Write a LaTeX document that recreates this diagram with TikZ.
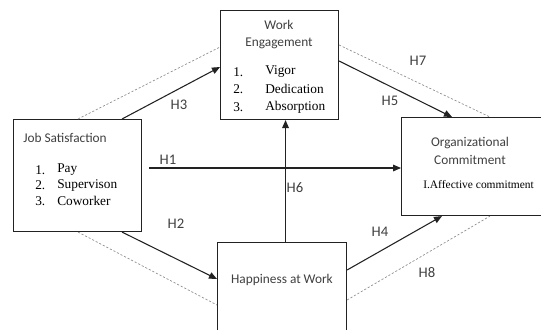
\documentclass[tikz,border=0pt]{standalone}
\usepackage{fontspec}
\setmainfont{Liberation Serif}
\newfontfamily\calib{Carlito}
\usepackage{xcolor}
\usepackage{tikz}
\usetikzlibrary{arrows.meta,calc}
\definecolor{HMLine}{HTML}{222222}
\definecolor{HMDash}{HTML}{8C8C8C}
\definecolor{HMText}{HTML}{404040}

\begin{document}
\begin{tikzpicture}[x=0.75pt,y=-0.75pt,
  box/.style={draw=HMLine,line width=.8pt,rectangle,anchor=north west,inner sep=0pt},
  ttl/.style={font=\calib\fontsize{10}{12}\selectfont,text=HMText,inner sep=0pt},
  itm/.style={font=\fontsize{10}{12}\selectfont,anchor=west,inner sep=0pt},
  hyp/.style={font=\calib\fontsize{11}{13}\selectfont,text=HMText,inner sep=0pt},
  path/.style={draw=HMLine,line width=.8pt,-{Triangle[length=6pt,width=5pt]}},
  link/.style={draw=HMDash,line width=.5pt,dash pattern=on 1.6pt off 1.4pt}]
\path[use as bounding box] (0,0) rectangle (541,329);
\clip (0,0) rectangle (541,329);
\fill[white] (0,0) rectangle (541,329);
% boxes
\node[box,minimum width=96pt,minimum height=84pt] (js) at (13,119) {};
\node[box,minimum width=88.5pt,minimum height=81.75pt] (we) at (220,10) {};
\node[box,minimum width=108.75pt,minimum height=73.5pt] (oc) at (401,117) {};
\node[box,minimum width=96.75pt,minimum height=73.5pt] (hw) at (217,242) {};
% job satisfaction
\node[ttl,anchor=west] (jst) at (23,138) {Job Satisfaction};
\node[itm] (jsn1) at (35,170) {1.};
\node[itm] (jsi1) at (57,170) {Pay};
\node[itm] (jsn2) at (35,185) {2.};
\node[itm] (jsi2) at (57,185) {Supervison};
\node[itm] (jsn3) at (35,201) {3.};
\node[itm] (jsi3) at (57,201) {Coworker};
% work engagement
\node[ttl] (wet1) at (279,25) {Work};
\node[ttl] (wet2) at (279,43) {Engagement};
\node[itm] (wen1) at (233,72) {1.};
\node[itm] (wei1) at (265,72) {Vigor};
\node[itm] (wen2) at (233,89) {2.};
\node[itm] (wei2) at (265,89) {Dedication};
\node[itm] (wen3) at (233,107) {3.};
\node[itm] (wei3) at (265,107) {Absorption};
% organizational commitment
\node[ttl] (oct1) at (470,143) {Organizational};
\node[ttl] (oct2) at (470,160) {Commitment};
\node[itm,font=\fontsize{8.6}{10}\selectfont] (oci1) at (423,185) {I.Affective commitment};
% happiness
\node[ttl] (hwt) at (282,280) {Happiness at Work};
% dashed links
\draw[link] ($(js.north west)+(65,0)$) -- ($(we.north west)+(0,37)$);
\draw[link] ($(js.south west)+(65,0)$) -- ($(hw.north west)+(0,63)$);
\draw[link] ($(we.north east)+(0,35)$) -- ($(oc.north west)+(89,0)$);
\draw[link] ($(hw.north east)+(0,58)$) -- ($(oc.south west)+(89,0)$);
% paths
\coordinate (h1s) at ($(js.north east)+(7,49)$);
\coordinate (h6s) at ($(hw.north)+(3.5,0)$);
\draw[path] ($(js.north west)+(109,0)$) -- ($(we.north west)+(0,57)$);
\draw[path] ($(js.south west)+(109,0)$) -- ($(hw.north west)+(0,37)$);
\draw[path] (h1s) -- (h1s -| oc.west);
\draw[path] (h6s) -- (h6s |- we.south);
\draw[path] ($(we.north east)+(0,51)$) -- ($(oc.north west)+(51,0)$);
\draw[path] ($(hw.north east)+(0,28)$) -- ($(oc.south west)+(41,0)$);
% hypotheses
\node[hyp] (h1) at (168,160) {H1};
\node[hyp] (h2) at (176,224) {H2};
\node[hyp] (h3) at (179,105) {H3};
\node[hyp] (h4) at (380,232) {H4};
\node[hyp] (h5) at (390,101) {H5};
\node[hyp] (h6) at (295,188) {H6};
\node[hyp] (h7) at (418,61) {H7};
\node[hyp] (h8) at (427,273) {H8};
\end{tikzpicture}
\end{document}
